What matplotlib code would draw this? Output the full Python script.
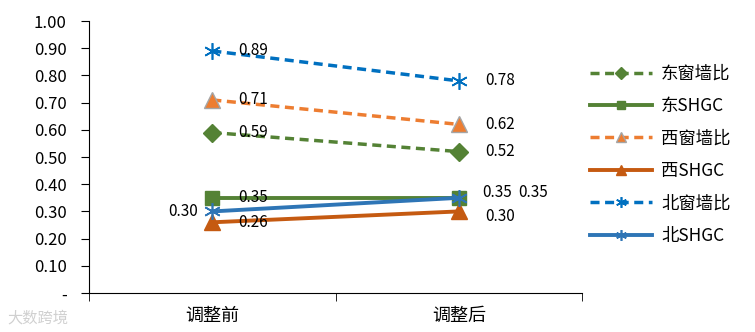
import numpy as np
import matplotlib.pyplot as plt
from matplotlib.ticker import FixedLocator

plt.rcParams['font.family'] = ['Noto Sans CJK SC', 'DejaVu Sans']

categories = ['调整前', '调整后']
east_ratio = [0.59, 0.52]
east_shgc = [0.35, 0.35]
west_ratio = [0.71, 0.62]
west_shgc = [0.26, 0.30]
north_ratio = [0.89, 0.78]
north_shgc = [0.30, 0.35]
yticks = [0.0, 0.1, 0.2, 0.3, 0.4, 0.5, 0.6, 0.7, 0.8, 0.9, 1.0]
ytick_labels = ['-'] + ['%.2f' % v for v in yticks[1:]]

x = np.arange(len(categories))
star = (6, 2, 0)
dash = (0, (2.6, 1.6))

fig = plt.figure(figsize=(7.55, 3.32), dpi=100)
ax = fig.add_axes([0.118, 0.1175, 0.653, 0.819])

ax.plot(x, east_ratio, ls=dash, lw=2.5, color='#548235',
        marker='D', ms=9, mfc='#548235', mec='#548235', label='东窗墙比')
ax.plot(x, east_shgc, ls='-', lw=2.8, color='#548235',
        marker='s', ms=9.5, mfc='#548235', mec='#548235', label='东SHGC')
ax.plot(x, west_ratio, ls=dash, lw=2.5, color='#ED7D31',
        marker='^', ms=12, mfc='#ED7D31', mec='#A5A5A5', label='西窗墙比')
ax.plot(x, west_shgc, ls='-', lw=2.8, color='#C55A11',
        marker='^', ms=12, mfc='#C55A11', mec='#C55A11', label='西SHGC')
ax.plot(x, north_ratio, ls=dash, lw=2.5, color='#0070C0',
        marker=star, ms=12, mfc='none', mec='#0070C0', mew=1.2, label='北窗墙比')
ax.plot(x, north_shgc, ls='-', lw=2.8, color='#2E75B6',
        marker=star, ms=12, mfc='none', mec='#2E75B6', mew=1.2, label='北SHGC')

# data labels
fs = 11
for s in [east_ratio, east_shgc, west_ratio, west_shgc, north_ratio]:
    ax.annotate('%.2f' % s[0], (x[0], s[0]), xytext=(19, 0), textcoords='offset points',
                ha='left', va='center', fontsize=fs)
ax.annotate('%.2f' % north_shgc[0], (x[0], north_shgc[0]), xytext=(-10, 0),
            textcoords='offset points', ha='right', va='center', fontsize=fs)
for s in [east_ratio, west_ratio, north_ratio]:
    ax.annotate('%.2f' % s[1], (x[1], s[1]), xytext=(19, 0), textcoords='offset points',
                ha='left', va='center', fontsize=fs)
ax.annotate('%.2f' % west_shgc[1], (x[1], west_shgc[1]), xytext=(19, -3.5),
            textcoords='offset points', ha='left', va='center', fontsize=fs)
ax.annotate('%.2f' % east_shgc[1], (x[1], east_shgc[1]), xytext=(17, 3.5),
            textcoords='offset points', ha='left', va='center', fontsize=fs)
ax.annotate('%.2f' % north_shgc[1], (x[1], north_shgc[1]), xytext=(43, 3.5),
            textcoords='offset points', ha='left', va='center', fontsize=fs)

ax.set_xlim(-0.5, 1.5)
ax.set_ylim(0, 1.0)
ax.set_xticks(x)
ax.set_xticklabels(categories, fontsize=13)
ax.xaxis.set_minor_locator(FixedLocator([-0.5, 0.5, 1.5]))
ax.tick_params(axis='x', which='major', length=0, pad=10)
ax.tick_params(axis='x', which='minor', length=6, direction='out')
ax.set_yticks(yticks)
ax.set_yticklabels(ytick_labels, fontsize=12)
ax.tick_params(axis='y', length=6, direction='out', pad=10)
for sp in ['top', 'right']:
    ax.spines[sp].set_visible(False)

ax.legend(loc='upper left', bbox_to_anchor=(1.016, 0.84), frameon=False,
          handlelength=3.6, numpoints=1, fontsize=12.5, labelspacing=0.83,
          handletextpad=0.5, borderaxespad=0, borderpad=0, markerscale=0.65)

fig.text(0.01, 0.03, '大数跨境', fontsize=11, color='#D0D0D0')

fig.savefig('out.png', dpi=100)
